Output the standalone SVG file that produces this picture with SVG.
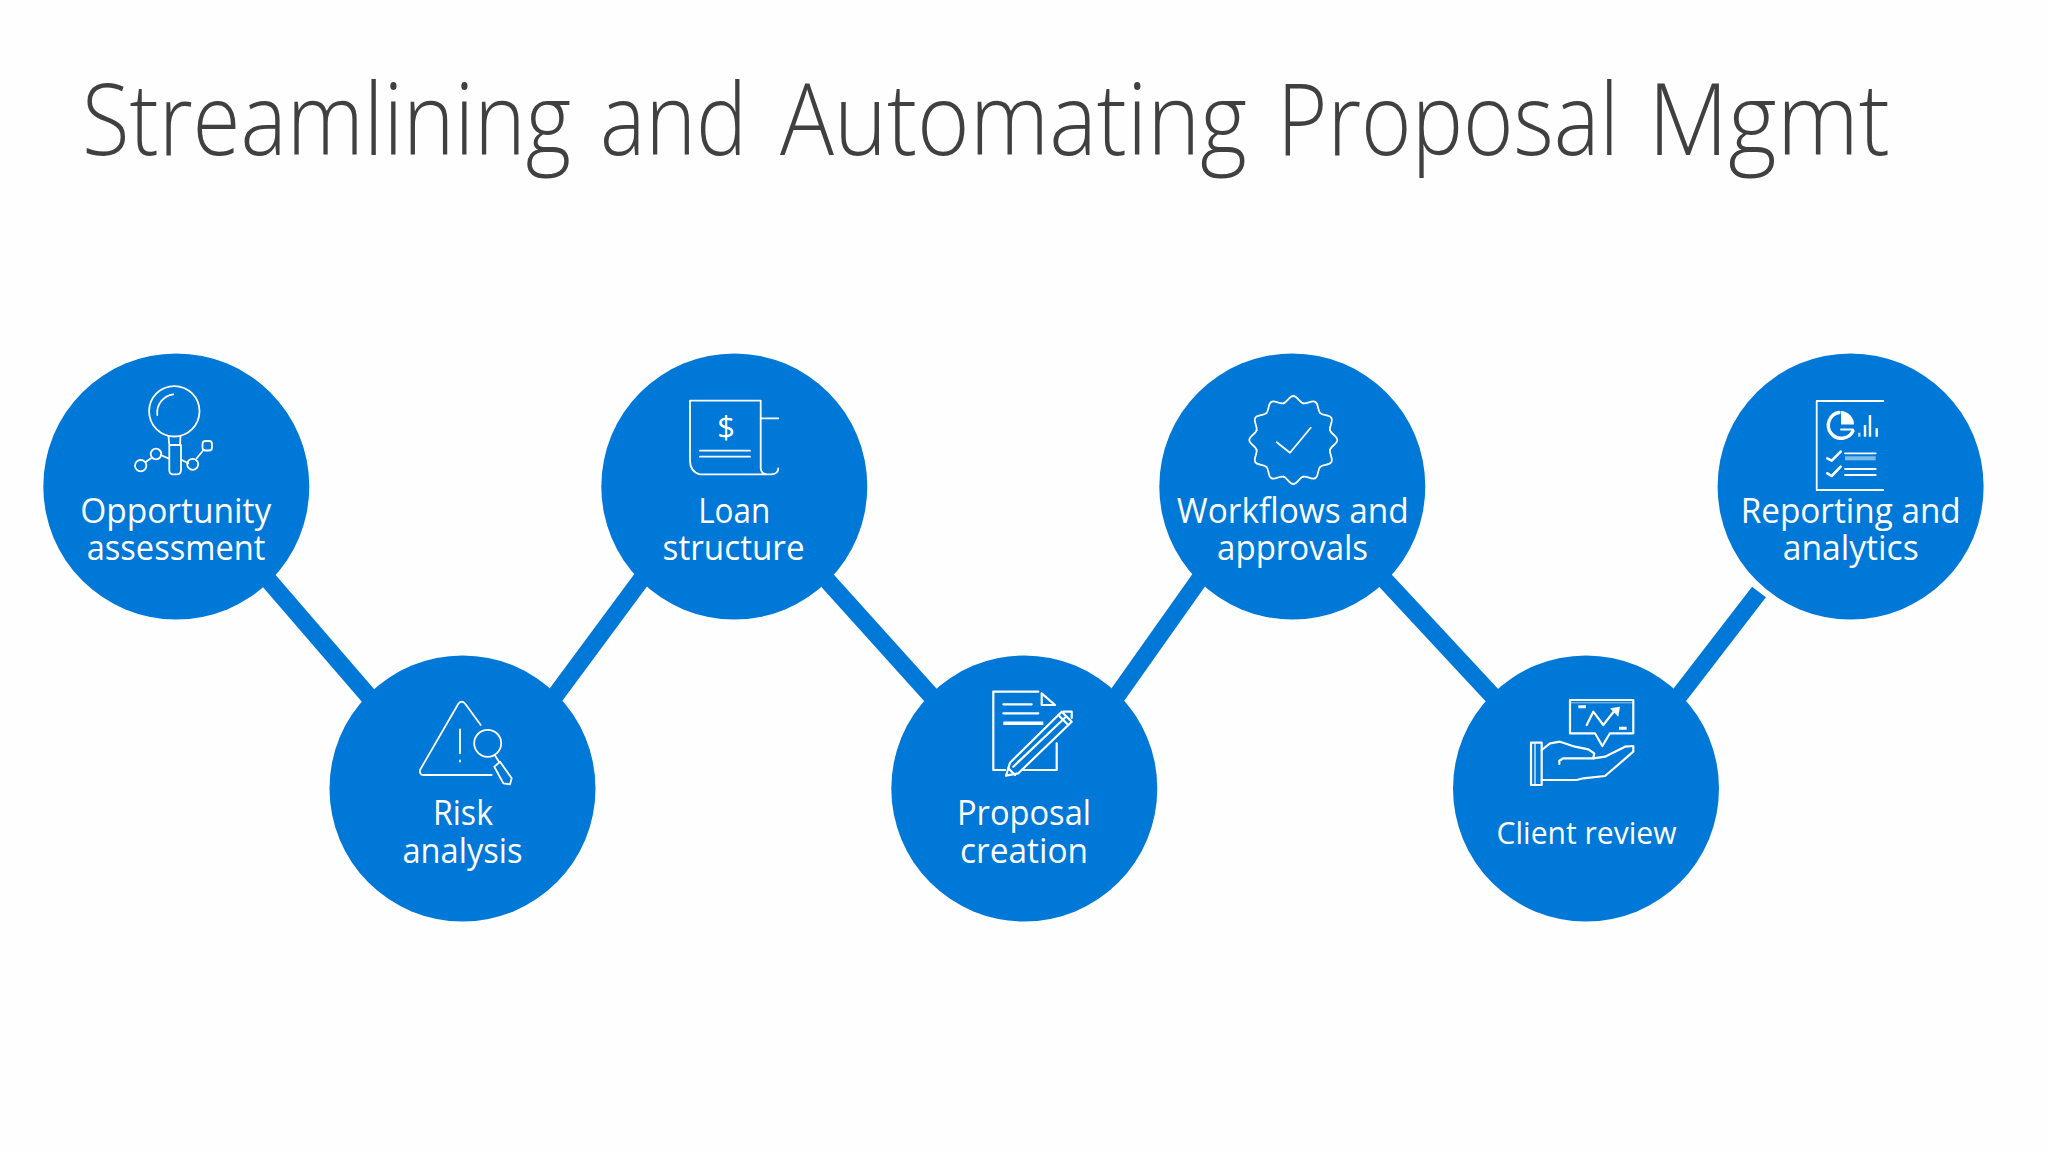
<svg xmlns="http://www.w3.org/2000/svg" xmlns:xlink="http://www.w3.org/1999/xlink" width="2048" height="1152" viewBox="0 0 2048 1152">
<style>
.node{fill:#0078d7}
.conn{stroke:#0078d7;stroke-width:17.5;fill:none}
.lbl{font-family:"Open Sans","Noto Sans",sans-serif;font-size:35px;fill:#fff;text-anchor:middle}
.ic{fill:none;stroke:#fff;stroke-width:1.8;stroke-linecap:round;stroke-linejoin:round}
.fw{fill:#fff;stroke:none}
.title{font-family:"Open Sans","Noto Sans",sans-serif;font-weight:300;font-size:100px;fill:#404040}
</style>
<defs>
<path id="lobe" d="M-9.84-36.7C-5.98-37.7-4-44 0-44C4-44 5.98-37.7 9.84-36.7"/>
</defs>
<rect width="2048" height="1152" fill="#fefefe"/>
<text class="title" y="155"><tspan x="82" textLength="489" lengthAdjust="spacingAndGlyphs">Streamlining</tspan> <tspan x="600" textLength="147" lengthAdjust="spacingAndGlyphs">and</tspan> <tspan x="780" textLength="467" lengthAdjust="spacingAndGlyphs">Automating</tspan> <tspan x="1277" textLength="342" lengthAdjust="spacingAndGlyphs">Proposal</tspan> <tspan x="1648" textLength="242" lengthAdjust="spacingAndGlyphs">Mgmt</tspan></text>
<g id="connectors">
<line class="conn" x1="263.2" y1="574" x2="374.5" y2="703"/>
<line class="conn" x1="550" y1="702.7" x2="646" y2="573"/>
<line class="conn" x1="821.6" y1="574.2" x2="937.6" y2="702.8"/>
<line class="conn" x1="1112" y1="702.9" x2="1204" y2="572.8"/>
<line class="conn" x1="1379" y1="573.7" x2="1499" y2="702.7"/>
<line class="conn" x1="1673.8" y1="702.6" x2="1759" y2="592"/>
</g>
<g id="node-opportunity">
<circle class="node" cx="176.3" cy="486.5" r="133"/>
<g class="ic">
<circle cx="174.3" cy="411.3" r="25.2"/>
<path d="M157.3 415C156 404 164 395.5 173.3 394.3"/>
<path d="M168.5 436.5L169.3 445M180.5 436.5L180 445M169.3 445H181V470Q181 474.3 177 474.3H173Q169.3 474.3 169.3 470Z"/>
<circle cx="140.7" cy="465.7" r="5.7"/>
<circle cx="156" cy="454" r="5.3"/>
<path d="M146 461.7L151.7 457.7M160.7 455L168.3 458.3M181.7 460L188.3 463.3M196.7 458.3L202.7 451"/>
<circle cx="192.7" cy="464.3" r="5.5"/>
<rect x="202.5" y="441" width="9.5" height="9.5" rx="3"/>
</g>
<text class="lbl" x="175.7" y="522.6" textLength="191" lengthAdjust="spacingAndGlyphs">Opportunity</text>
<text class="lbl" x="176" y="560" textLength="178.7" lengthAdjust="spacingAndGlyphs">assessment</text>
</g>
<g id="node-risk">
<circle class="node" cx="462.5" cy="788.5" r="133"/>
<g class="ic">
<path d="M480.7 725L465 703.5Q461.7 700 458.5 703.5L420 770Q419.5 775 423.3 775H491.7"/>
<path d="M460 729.3V753.3M460 760.5V761.5"/>
<circle cx="487.7" cy="743.3" r="13.5"/>
<path d="M495 755.5L499 761.7M494.3 766.7L500 761.7L511.7 778.3L510 784.3L503.3 783.3Z"/>
</g>
<text class="lbl" x="463" y="825" textLength="60" lengthAdjust="spacingAndGlyphs">Risk</text>
<text class="lbl" x="462.5" y="862.7" textLength="120" lengthAdjust="spacingAndGlyphs">analysis</text>
</g>
<g id="node-loan">
<circle class="node" cx="734.3" cy="486.5" r="133"/>
<g class="ic">
<path d="M771.7 474.3H700Q690 472 690 460V400.7H760.7V468.3Q761 474 767 474.3"/>
<path d="M771.7 474.3Q778.3 474 778.3 468.3M760.7 418.3H778.3M700 450.7H750M700 456.7H750"/>
</g>
<text x="726" y="438" font-family="'Open Sans','Noto Sans',sans-serif" font-size="31" fill="#fff" text-anchor="middle">$</text>
<text class="lbl" x="734.2" y="522.6" textLength="72" lengthAdjust="spacingAndGlyphs">Loan</text>
<text class="lbl" x="733.6" y="560" textLength="142" lengthAdjust="spacingAndGlyphs">structure</text>
</g>
<g id="node-proposal">
<circle class="node" cx="1024.3" cy="788.5" r="133"/>
<g class="ic" style="stroke-width:2.2">
<path d="M1038.3 691.7H993.3V770H1005M1023.3 770H1056.7V743.3"/>
<path d="M1003.3 704.3H1031.7M1003.3 713.3H1038.3"/>
<path d="M1041.7 693.3L1055 705H1041.7Z"/>
<path d="M1006 775.7L1010 762.7L1061.7 711.7L1071.7 721.7L1018.3 773.3Z"/>
<path d="M1013.3 766.7L1066 716.7M1008.3 768.3L1015 775M1058.3 715L1068.3 725M1063.3 711.7H1071.7V718"/>
<path d="M1003.3 723.3H1043.3" style="stroke-width:3.5;stroke-linecap:butt"/>
</g>
<text class="lbl" x="1024" y="825" textLength="134" lengthAdjust="spacingAndGlyphs">Proposal</text>
<text class="lbl" x="1024" y="862.7" textLength="128" lengthAdjust="spacingAndGlyphs">creation</text>
</g>
<g id="node-workflows">
<circle class="node" cx="1292.3" cy="486.5" r="133"/>
<g class="ic">
<g transform="translate(1293.3 440)">
<use xlink:href="#lobe" href="#lobe"/>
<use xlink:href="#lobe" href="#lobe" transform="rotate(30)"/>
<use xlink:href="#lobe" href="#lobe" transform="rotate(60)"/>
<use xlink:href="#lobe" href="#lobe" transform="rotate(90)"/>
<use xlink:href="#lobe" href="#lobe" transform="rotate(120)"/>
<use xlink:href="#lobe" href="#lobe" transform="rotate(150)"/>
<use xlink:href="#lobe" href="#lobe" transform="rotate(180)"/>
<use xlink:href="#lobe" href="#lobe" transform="rotate(210)"/>
<use xlink:href="#lobe" href="#lobe" transform="rotate(240)"/>
<use xlink:href="#lobe" href="#lobe" transform="rotate(270)"/>
<use xlink:href="#lobe" href="#lobe" transform="rotate(300)"/>
<use xlink:href="#lobe" href="#lobe" transform="rotate(330)"/>
</g>
<path d="M1276.7 442.3L1290 452.7L1310.7 427.7"/>
</g>
<text class="lbl" x="1292.8" y="522.6" textLength="232" lengthAdjust="spacingAndGlyphs">Workflows and</text>
<text class="lbl" x="1292.6" y="560" textLength="151" lengthAdjust="spacingAndGlyphs">approvals</text>
</g>
<g id="node-client">
<circle class="node" cx="1586" cy="788.5" r="133"/>
<g class="ic" style="stroke-width:2.2">
<path d="M1570 700H1633.3V733.3H1610L1602.3 746L1595 733.3H1570Z"/>
<path d="M1570 702.8H1633.3" style="stroke-width:1;opacity:.6"/>
<path d="M1586.7 725L1593.3 711.7L1603.3 725L1615 710"/>
<rect x="1531" y="742.7" width="10.7" height="42.3"/>
<path d="M1535 743V785" style="stroke-width:1.2"/>
<path d="M1541.7 750L1550 743.3L1560 741.7L1575 746.7L1588.3 749.3L1594.3 753.3L1593.3 758.3H1563.3L1559.3 760.7V764"/>
<path d="M1593.3 758.3L1605 756.7L1625 746.7L1633.3 746V751.7L1605 776L1583.3 778.3L1576.7 780H1541.7"/>
</g>
<path class="fw" d="M1610 708.3L1620 706.7L1618.3 716.7Z"/>
<path class="ic" style="stroke-width:3;stroke-linecap:butt" d="M1578.3 706.7H1586M1619 728.3H1626.7"/>
<text class="lbl" x="1586.5" y="844" style="font-size:31px" textLength="180" lengthAdjust="spacingAndGlyphs">Client review</text>
</g>
<g id="node-reporting">
<circle class="node" cx="1850.6" cy="486.5" r="133"/>
<g class="ic">
<path d="M1884 401H1816.7V490H1884" style="stroke-linecap:butt"/>
<path d="M1853 431A13 13 0 1 1 1839 412.5" style="stroke-width:3.4"/>
<path d="M1827.3 458.3L1831.7 460.7L1840.7 451.7M1827.3 473.3L1831.7 476L1840.7 466.7" style="stroke-width:2.6"/>
<path d="M1845 453.3H1875.7M1845 469H1875.7M1845 475H1875.7"/>
<path d="M1845 458.3H1875.7" style="stroke-width:4;opacity:.5;stroke-linecap:butt"/>
<path d="M1859.3 436.7V432.7" style="stroke-width:2.4;stroke-linecap:butt;opacity:.7"/>
<path d="M1865 436.7V425M1870 436.7V415M1876.7 436.7V428.3" style="stroke-width:2.4;stroke-linecap:butt"/>
</g>
<path class="fw" d="M1841 411A13.5 13.5 0 0 1 1854 424.5H1841Z"/>
<path class="ic" d="M1841 429.5H1853"/>
<text class="lbl" x="1850.7" y="522.6" textLength="220" lengthAdjust="spacingAndGlyphs">Reporting and</text>
<text class="lbl" x="1850.7" y="560" textLength="136" lengthAdjust="spacingAndGlyphs">analytics</text>
</g>
</svg>
